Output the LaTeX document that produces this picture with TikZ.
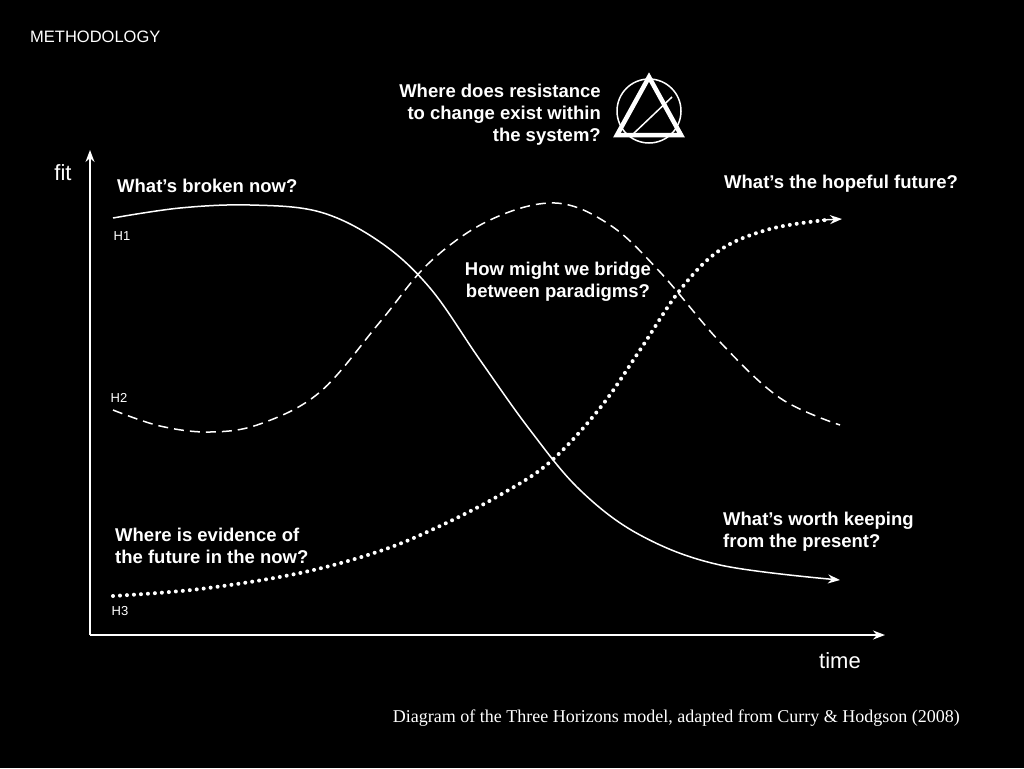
\documentclass[tikz,border=0pt]{standalone}
\usepackage{fontspec}
\setmainfont{Liberation Sans}
\newfontfamily\serifc{Liberation Serif}
\usetikzlibrary{arrows.meta}
\tikzset{q/.style={text=white,font=\bfseries\fontsize{18.5}{22}\selectfont,align=left,inner sep=0pt},
lab/.style={text=white,font=\fontsize{13}{14}\selectfont},
crv/.style={white,line width=1.5pt},
arr/.style={-{Stealth[length=12pt,width=9pt]}}}
\begin{document}
\begin{tikzpicture}[x=1pt,y=-1pt]
\fill[black] (0,0) rectangle (1024,768);
\node[text=white,font=\fontsize{16.5}{17}\selectfont,anchor=west,inner sep=0pt] (meth) at (30,37) {METHODOLOGY};
% axes
\coordinate (o) at (90,635);
\coordinate (ytop) at (90,150);
\coordinate (xend) at (885,635);
\draw[crv,arr] (o) -- (ytop);
\draw[crv,arr] (o) -- (xend);
\node[text=white,font=\fontsize{22}{24}\selectfont] (fit) at (63,173) {fit};
\node[text=white,font=\fontsize{22}{24}\selectfont] (time) at (840,661) {time};
% curves
\draw[crv,arr] plot[smooth,tension=0.6] coordinates {(113,218)(180,208)(250,205)(320,212)(380,242)(430,288)(480,360)(530,430)(580,490)(640,535)(720,565)(840,580)};
\draw[crv,dash pattern=on 10pt off 6pt] plot[smooth,tension=0.6] coordinates {(113,410)(160,426)(210,432)(260,424)(320,392)(380,322)(430,262)(490,220)(555,203)(610,225)(660,272)(720,342)(780,398)(840,425)};
\draw[white,line width=4pt,line cap=round,dash pattern=on 0pt off 7pt] plot[smooth,tension=0.6] coordinates {(113,596)(200,589)(300,573)(380,551)(440,526)(500,495)(550,462)(600,408)(640,350)(680,290)(720,250)(770,229)(826,220)};
\coordinate (h3a) at (822,220);\coordinate (h3b) at (842,219);
\draw[crv,arr] (h3a) -- (h3b);
\node[lab] (h1) at (122,236) {H1};
\node[lab] (h2) at (119,398) {H2};
\node[lab] (h3) at (120,611) {H3};
% questions
\node[q,anchor=west] (qa) at (117,186) {What’s broken now?};
\node[q,align=right,anchor=east] (qb) at (601,115) {Where does resistance\\to change exist within\\the system?};
\node[q,anchor=west] (qc) at (724,184) {What’s the hopeful future?};
\node[q,align=center] (qd) at (558,282) {How might we bridge\\between paradigms?};
\node[q,anchor=west] (qe) at (115,546) {Where is evidence of\\the future in the now?};
\node[q,anchor=west] (qf) at (723,532) {What’s worth keeping\\from the present?};
% icon
\coordinate (ic) at (649,111);
\draw[white,line width=1.5pt] (ic) circle (32);
\coordinate (ta) at (649,77);\coordinate (tb) at (617,135);\coordinate (tc) at (681,135);
\draw[white,line width=4.5pt,line join=miter] (ta) -- (tb) -- (tc) -- cycle;
\coordinate (da) at (632,135);\coordinate (db) at (672,97);
\draw[white,line width=1.5pt] (da) -- (db);
\node[text=white,font=\serifc\fontsize{18}{18}\selectfont,anchor=east,inner sep=0pt] (cap) at (960,718) {Diagram of the Three Horizons model, adapted from Curry \& Hodgson (2008)};
\end{tikzpicture}
\end{document}
